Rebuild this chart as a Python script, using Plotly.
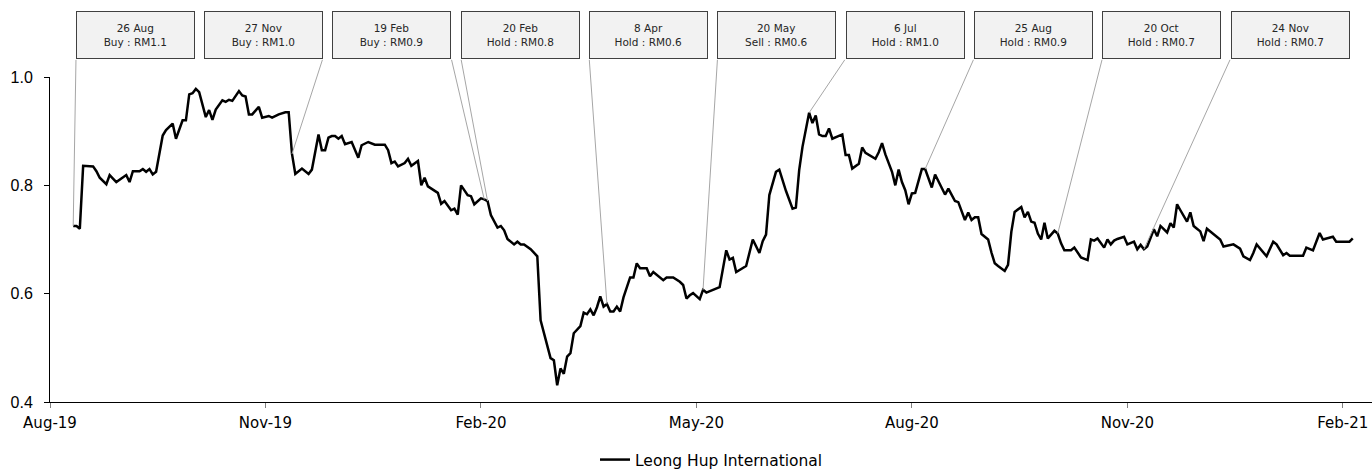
import plotly.graph_objects as go

# ---- data (trading-session index on a category-style axis, closing price in RM) ----
session = [7, 8, 9, 10, 13, 14, 15, 17, 18, 20, 23, 24, 25, 27, 28, 29, 30, 31, 32, 33,
           34, 35, 37, 38, 40, 41, 42, 43, 44, 45, 47, 48, 49, 50, 52, 53, 54, 55, 57, 58,
           59, 60, 61, 62, 63, 64, 66, 67, 69, 71, 72, 73, 74, 76, 78, 79, 80, 81, 82, 83,
           84, 85, 86, 87, 88, 89, 91, 93, 94, 96, 98, 101, 102, 103, 104, 105, 107, 108, 109, 111,
           112, 113, 114, 117, 118, 119, 121, 122, 123, 124, 126, 127, 128, 130, 131, 132, 133, 134, 135, 136,
           137, 138, 140, 141, 142, 143, 145, 147, 148, 151, 152, 153, 154, 155, 156, 157, 158, 160, 161, 162,
           163, 164, 165, 166, 167, 168, 169, 170, 171, 172, 173, 175, 176, 177, 178, 180, 181, 182, 185, 186,
           188, 190, 191, 192, 193, 194, 196, 197, 198, 202, 204, 205, 206, 207, 210, 212, 214, 215, 216, 217,
           219, 220, 222, 224, 225, 226, 227, 229, 230, 231, 232, 233, 234, 235, 236, 239, 240, 241, 242, 244,
           245, 246, 249, 250, 251, 252, 254, 255, 256, 257, 258, 259, 260, 261, 263, 264, 266, 267, 270, 271,
           273, 274, 276, 277, 278, 279, 280, 281, 283, 284, 285, 286, 288, 289, 290, 291, 293, 294, 295, 296,
           297, 298, 299, 300, 301, 303, 304, 305, 306, 308, 309, 311, 313, 314, 315, 316, 318, 319, 320, 321,
           322, 324, 325, 327, 328, 329, 330, 331, 333, 334, 335, 337, 338, 339, 340, 341, 343, 344, 345, 346,
           347, 348, 349, 353, 354, 357, 359, 360, 362, 363, 364, 367, 369, 370, 372, 373, 374, 378, 379, 381,
           383, 384, 387, 388, 392, 393]
price = [0.725, 0.725, 0.720, 0.836, 0.835, 0.826, 0.814, 0.802, 0.819, 0.806, 0.819, 0.806, 0.826, 0.826, 0.830, 0.825, 0.830, 0.820, 0.825, 0.860,
         0.892, 0.902, 0.914, 0.886, 0.920, 0.920, 0.968, 0.970, 0.978, 0.972, 0.926, 0.939, 0.921, 0.940, 0.957, 0.954, 0.958, 0.956, 0.974, 0.966,
         0.964, 0.931, 0.931, 0.938, 0.945, 0.925, 0.928, 0.925, 0.931, 0.935, 0.935, 0.858, 0.821, 0.831, 0.821, 0.829, 0.859, 0.894, 0.865, 0.865,
         0.888, 0.891, 0.891, 0.886, 0.891, 0.876, 0.880, 0.851, 0.874, 0.880, 0.875, 0.875, 0.865, 0.841, 0.844, 0.835, 0.841, 0.849, 0.836, 0.845,
         0.800, 0.814, 0.798, 0.786, 0.766, 0.771, 0.754, 0.757, 0.746, 0.800, 0.782, 0.780, 0.765, 0.776, 0.774, 0.771, 0.745, 0.733, 0.722, 0.725,
         0.717, 0.701, 0.691, 0.696, 0.691, 0.691, 0.682, 0.669, 0.551, 0.481, 0.477, 0.431, 0.462, 0.452, 0.484, 0.490, 0.527, 0.540, 0.565, 0.562,
         0.571, 0.560, 0.575, 0.595, 0.576, 0.581, 0.567, 0.567, 0.576, 0.567, 0.593, 0.630, 0.630, 0.656, 0.647, 0.647, 0.632, 0.640, 0.625, 0.630,
         0.630, 0.622, 0.616, 0.591, 0.597, 0.601, 0.590, 0.607, 0.602, 0.612, 0.680, 0.663, 0.666, 0.640, 0.651, 0.700, 0.675, 0.697, 0.709, 0.782,
         0.825, 0.829, 0.790, 0.757, 0.759, 0.828, 0.871, 0.934, 0.915, 0.929, 0.894, 0.891, 0.891, 0.905, 0.886, 0.894, 0.856, 0.856, 0.831, 0.840,
         0.870, 0.860, 0.849, 0.861, 0.878, 0.857, 0.825, 0.800, 0.829, 0.806, 0.791, 0.765, 0.785, 0.786, 0.830, 0.830, 0.796, 0.820, 0.783, 0.794,
         0.771, 0.769, 0.736, 0.750, 0.736, 0.741, 0.741, 0.710, 0.700, 0.676, 0.656, 0.651, 0.642, 0.653, 0.714, 0.751, 0.760, 0.741, 0.751, 0.733,
         0.731, 0.711, 0.700, 0.731, 0.702, 0.716, 0.711, 0.693, 0.680, 0.680, 0.685, 0.667, 0.662, 0.700, 0.698, 0.702, 0.685, 0.700, 0.691, 0.698,
         0.701, 0.705, 0.691, 0.696, 0.682, 0.690, 0.682, 0.687, 0.719, 0.706, 0.725, 0.713, 0.730, 0.722, 0.765, 0.754, 0.733, 0.750, 0.725, 0.720,
         0.715, 0.697, 0.720, 0.700, 0.687, 0.691, 0.683, 0.669, 0.662, 0.675, 0.691, 0.669, 0.696, 0.691, 0.671, 0.675, 0.670, 0.670, 0.685, 0.680,
         0.712, 0.700, 0.705, 0.696, 0.696, 0.702]

tick_pos = [0, 65, 130, 195, 260, 325, 390]
tick_labels = ["Aug-19", "Nov-19", "Feb-20", "May-20", "Aug-20", "Nov-20", "Feb-21"]
y_ticks = [0.4, 0.6, 0.8, 1.0]

event_dates = ["26 Aug", "27 Nov", "19 Feb", "20 Feb", "8 Apr", "20 May", "6 Jul", "25 Aug", "20 Oct", "24 Nov"]
event_calls = ["Buy", "Buy", "Buy", "Hold", "Hold", "Sell", "Hold", "Hold", "Hold", "Hold"]
event_targets = ["RM1.1", "RM1.0", "RM0.9", "RM0.8", "RM0.6", "RM0.6", "RM1.0", "RM0.9", "RM0.7", "RM0.7"]
event_session = [7, 73, 131, 132, 168, 197, 229, 264, 304, 330]
event_side = ["left", "right", "right", "left", "left", "left", "left", "left", "left", "left"]

series_name = "Leong Hup International"

# ---- layout geometry ----
W, H = 1372, 470
ML, MR, MT, MB = 50, 0, 77, 68
XR = [0, 398.8]
YR = [0.4, 1.0]
PW, PH = W - ML - MR, H - MT - MB


def px_to_paper_x(px):
    return (px - ML) / PW


def px_to_paper_y(py):
    return (H - MB - py) / PH


fig = go.Figure()
fig.add_trace(go.Scatter(x=session, y=price, mode="lines", name=series_name,
                         line=dict(color="#000000", width=2.5)))

BOX_L0, BOX_STEP, BOX_W = 76.0, 128.3, 118.6
BOX_TOP, BOX_BOT = 10.7, 58.3
price_at = dict(zip(session, price))

for k in range(len(event_dates)):
    left = BOX_L0 + BOX_STEP * k
    cx = left + BOX_W / 2
    cy = (BOX_TOP + BOX_BOT) / 2
    fig.add_annotation(
        xref="paper", yref="paper", x=px_to_paper_x(cx), y=px_to_paper_y(cy),
        xanchor="center", yanchor="middle", showarrow=False,
        text=f"{event_dates[k]}<br>{event_calls[k]} : {event_targets[k]}",
        width=BOX_W - 2, height=BOX_BOT - BOX_TOP - 2, borderpad=0,
        bgcolor="#f2f2f2", bordercolor="#404040", borderwidth=1,
        font=dict(family="DejaVu Sans", size=10.5, color="#262626"), align="center", valign="middle",
    )
    corner_px = left if event_side[k] == "left" else left + BOX_W
    tx = XR[0] + px_to_paper_x(corner_px) * (XR[1] - XR[0])
    ty = YR[0] + px_to_paper_y(BOX_BOT) * (YR[1] - YR[0])
    s = event_session[k]
    fig.add_annotation(
        xref="x", yref="y", axref="x", ayref="y",
        x=s, y=price_at[s], ax=tx, ay=ty, text="",
        showarrow=True, arrowhead=0, arrowwidth=1, arrowcolor="#a6a6a6", standoff=0,
    )

fig.update_layout(
    width=W, height=H, margin=dict(l=ML, r=MR, t=MT, b=MB, pad=0, autoexpand=False),
    paper_bgcolor="white", plot_bgcolor="white",
    showlegend=True,
    legend=dict(orientation="h", x=px_to_paper_x(595), y=px_to_paper_y(460),
                xanchor="left", yanchor="middle", bgcolor="rgba(0,0,0,0)",
                font=dict(family="DejaVu Sans", size=15.5, color="#000000")),
    xaxis=dict(range=XR, tickmode="array", tickvals=tick_pos, ticktext=tick_labels,
               showline=True, linecolor="#000000", linewidth=1, ticks="outside", ticklen=5,
               tickcolor="#7f7f7f", showgrid=False, zeroline=False, automargin=False,
               ticklabelstandoff=2,
               tickfont=dict(family="DejaVu Sans", size=15, color="#000000")),
    yaxis=dict(range=YR, tickmode="array", tickvals=y_ticks, tickformat=".1f",
               showline=True, linecolor="#000000", linewidth=1, ticks="outside", ticklen=5,
               tickcolor="#000000", showgrid=False, zeroline=False, automargin=False,
               ticklabelstandoff=8,
               tickfont=dict(family="Liberation Sans", size=16, color="#000000")),
)

fig.write_html("out.html")
